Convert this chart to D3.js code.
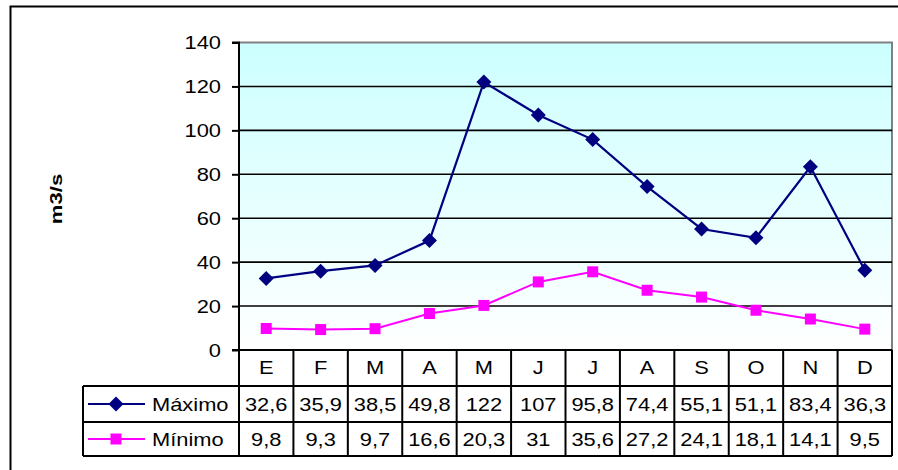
<!DOCTYPE html>
<html><head><meta charset="utf-8">
<script src="https://cdn.jsdelivr.net/npm/d3@7"></script>
<style>body{margin:0;background:#fff}svg{display:block}</style>
</head><body>
<svg id="c" width="898" height="470"></svg>
<script>
const months = ["E","F","M","A","M","J","J","A","S","O","N","D"];
const maximo = [32.6,35.9,38.5,49.8,122,107,95.8,74.4,55.1,51.1,83.4,36.3];
const minimo = [9.8,9.3,9.7,16.6,20.3,31,35.6,27.2,24.1,18.1,14.1,9.5];
const maxLabels = ["32,6","35,9","38,5","49,8","122","107","95,8","74,4","55,1","51,1","83,4","36,3"];
const minLabels = ["9,8","9,3","9,7","16,6","20,3","31","35,6","27,2","24,1","18,1","14,1","9,5"];
const yTicks = [0,20,40,60,80,100,120,140];
const seriesNames = ["Máximo","Mínimo"];

const svg = d3.select("#c");
const L = 239, R = 892, T = 42.5, B = 350;
const rowH = [36, 36, 34];
const legL = 83;
const font = "Arial, 'Liberation Sans', sans-serif";
const FS = 17.5, SX = 1.25;

function stext(sel, x, y, txt, anchor) {
  return sel.append("text").attr("transform",`translate(${x},${y}) scale(${SX},1)`)
    .attr("font-family",font).attr("font-size",FS).attr("fill","#000")
    .attr("text-anchor",anchor||"middle").text(txt);
}

// outer border
svg.append("rect").attr("x",10.5).attr("y",6.5).attr("width",900).attr("height",480)
  .attr("fill","none").attr("stroke","#000").attr("stroke-width",2);

const defs = svg.append("defs");
const g = defs.append("linearGradient").attr("id","bg").attr("x1",0).attr("y1",0).attr("x2",0).attr("y2",1);
g.append("stop").attr("offset","0%").attr("stop-color","#ccffff");
g.append("stop").attr("offset","100%").attr("stop-color","#ffffff");

const x = d3.scaleBand().domain(d3.range(12)).range([L, R]).paddingInner(0).paddingOuter(0);
const y = d3.scaleLinear().domain([0,140]).range([B, T]);

svg.append("rect").attr("x",L).attr("y",T).attr("width",R-L).attr("height",B-T).attr("fill","url(#bg)");
svg.append("path").attr("d",`M${L},${T}H${R}V${B}`).attr("fill","none").attr("stroke","#808080").attr("stroke-width",2);

// gridlines
svg.append("g").selectAll("line").data(yTicks.filter(d=>d>0 && d<140)).join("line")
  .attr("x1",L).attr("x2",R).attr("y1",d=>y(d)).attr("y2",d=>y(d))
  .attr("stroke","#000").attr("stroke-width",1.6);

// y axis
const ya = svg.append("g").attr("transform",`translate(${L},0)`)
  .call(d3.axisLeft(y).tickValues(yTicks).tickSize(7).tickFormat(()=>""));
ya.select(".domain").attr("stroke","#000").attr("stroke-width",2).attr("d",`M-7,${T}H0V${B}H-7`);
ya.selectAll(".tick line").attr("stroke","#000").attr("stroke-width",2);
ya.selectAll(".tick").each(function(d){
  stext(d3.select(this), -18, 6.3, d3.format("d")(d), "end");
});

// y label
svg.append("text").attr("transform","translate(62,199) rotate(-90) scale(1.3,1)").attr("text-anchor","middle")
  .attr("font-family",font).attr("font-size",17).attr("font-weight","bold").text("m3/s");

// lines
const cx = i => x(i) + x.bandwidth()/2;
const line = d3.line().x((d,i)=>cx(i)).y(d=>y(d));
svg.append("path").datum(maximo).attr("d",line).attr("fill","none").attr("stroke","#000080").attr("stroke-width",2.2);
svg.append("path").datum(minimo).attr("d",line).attr("fill","none").attr("stroke","#ff00ff").attr("stroke-width",2);
svg.append("g").selectAll("rect").data(maximo).join("rect")
  .attr("x",-5.3).attr("y",-5.3).attr("width",10.6).attr("height",10.6)
  .attr("transform",(d,i)=>`translate(${cx(i)},${y(d)}) rotate(45)`).attr("fill","#000080");
svg.append("g").selectAll("rect").data(minimo).join("rect")
  .attr("x",(d,i)=>cx(i)-5.5).attr("y",d=>y(d)-5.5).attr("width",11).attr("height",11).attr("fill","#ff00ff");

// table
const y0 = B, y1 = B+rowH[0], y2 = y1+rowH[1], y3 = y2+rowH[2];
const tg = svg.append("g").attr("stroke","#000").attr("stroke-width",2);
tg.append("line").attr("x1",L).attr("x2",R).attr("y1",y0).attr("y2",y0);
tg.append("line").attr("x1",legL).attr("x2",R).attr("y1",y1).attr("y2",y1);
tg.append("line").attr("x1",legL).attr("x2",R).attr("y1",y2).attr("y2",y2);
tg.append("line").attr("x1",legL).attr("x2",R).attr("y1",y3).attr("y2",y3);
tg.append("line").attr("x1",legL).attr("x2",legL).attr("y1",y1).attr("y2",y3);
tg.selectAll(".v").data(d3.range(13)).join("line")
  .attr("x1",i=>i<12?x(i):R).attr("x2",i=>i<12?x(i):R).attr("y1",y0).attr("y2",y3);

const tx = svg.append("g");
months.forEach((d,i)=>stext(tx, cx(i), y0+rowH[0]/2+6.3, d));
maxLabels.forEach((d,i)=>stext(tx, cx(i), y1+rowH[1]/2+6.5, d));
minLabels.forEach((d,i)=>stext(tx, cx(i), y2+rowH[2]/2+6.5, d));

// legend
const legCols = ["#000080","#ff00ff"];
[y1+rowH[1]/2, y2+rowH[2]/2].forEach((yy,k)=>{
  svg.append("line").attr("x1",88).attr("x2",145).attr("y1",yy).attr("y2",yy).attr("stroke",legCols[k]).attr("stroke-width",2);
  if(k===0) svg.append("rect").attr("x",-5.3).attr("y",-5.3).attr("width",10.6).attr("height",10.6)
     .attr("transform",`translate(116,${yy}) rotate(45)`).attr("fill",legCols[k]);
  else svg.append("rect").attr("x",110.5).attr("y",yy-5.5).attr("width",11).attr("height",11).attr("fill",legCols[k]);
  stext(svg, 152, yy+6.5, seriesNames[k], "start");
});
</script>
</body></html>
